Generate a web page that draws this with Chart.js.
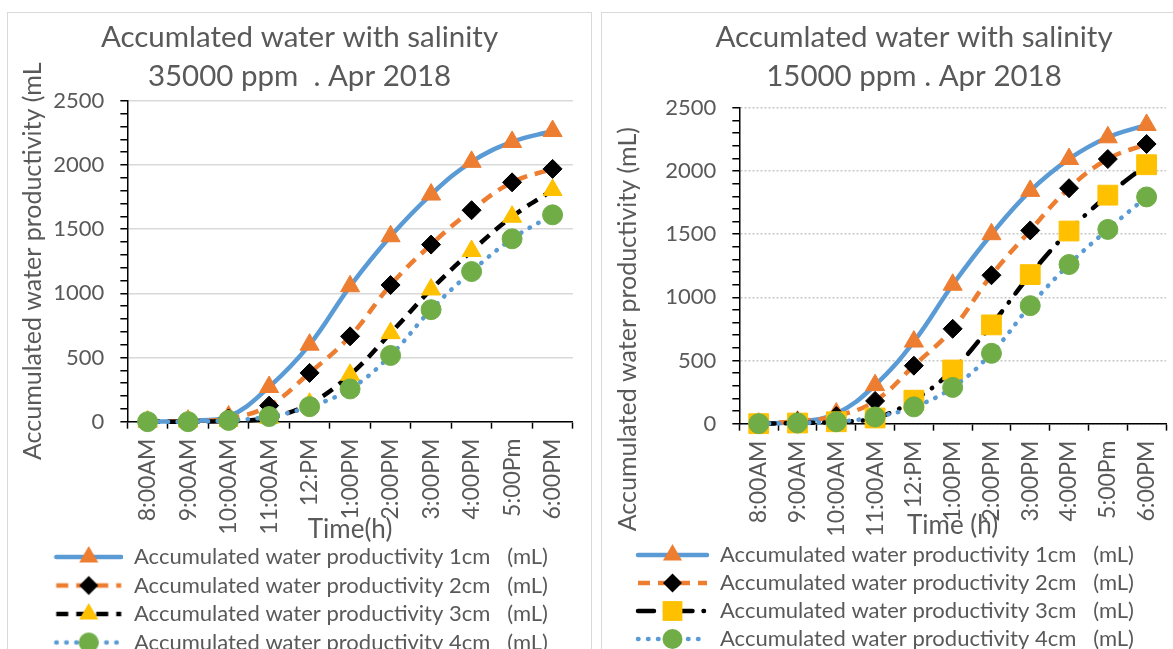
<!DOCTYPE html>
<html>
<head>
<meta charset="utf-8">
<script src="https://cdn.jsdelivr.net/npm/chart.js@4.4.1/dist/chart.umd.min.js"></script>
<style>
  html, body { margin: 0; padding: 0; background: #fff; }
  body { width: 1173px; height: 649px; overflow: hidden; position: relative; }
  .box { position: absolute; border: 1px solid #d9d9d9; background: #fff; }
  #box35 { left: 7px; top: 12px; width: 583px; height: 670px; }
  #box15 { left: 601px; top: 12px; width: 624px; height: 670px; }
  canvas { display: block; }
</style>
</head>
<body>
<div class="box" id="box35"><canvas id="chart35" width="583" height="660"></canvas></div>
<div class="box" id="box15"><canvas id="chart15" width="624" height="660"></canvas></div>
<script>
// time of day (x axis)
const times = ['8:00AM', '9:00AM', '10:00AM', '11:00AM', '12:PM', '1:00PM', '2:00PM', '3:00PM', '4:00PM', '5:00Pm', '6:00PM'];

// salinity 35000 ppm, accumulated water (mL)
const left1cm = [0, 8, 40, 270, 600, 1055, 1445, 1770, 2025, 2180, 2265];
const left2cm = [0, 5, 25, 125, 380, 665, 1065, 1380, 1648, 1865, 1970];
const left3cm = [0, 0, 5, 30, 140, 365, 690, 1030, 1330, 1597, 1805];
const left4cm = [0, 0, 10, 40, 117, 255, 516, 873, 1170, 1425, 1612];

// salinity 15000 ppm, accumulated water (mL)
const right1cm = [0, 15, 80, 305, 650, 1100, 1500, 1843, 2095, 2267, 2365];
const right2cm = [0, 20, 60, 180, 459, 751, 1175, 1530, 1864, 2095, 2214];
const right3cm = [0, 5, 15, 45, 186, 425, 782, 1180, 1525, 1809, 2050];
const right4cm = [0, 5, 15, 53, 133, 287, 557, 934, 1260, 1538, 1795];

const seriesNames = [
  'Accumulated water productivity 1cm   (mL)',
  'Accumulated water productivity 2cm   (mL)',
  'Accumulated water productivity 3cm   (mL)',
  'Accumulated water productivity 4cm   (mL)'
];

const BLUE = '#5b9bd5', ORANGE = '#ed7d31', YELLOW = '#ffc000', GREEN = '#70ad47', TEXT = '#595959';
const FONT = 'Lato';

function drawMarker(g, style, r, color, x, y) {
  g.fillStyle = color;
  g.beginPath();
  if (style === 'triangle') {
    const a = 2 * Math.PI / 3;
    g.moveTo(x, y - r);
    g.lineTo(x + r * Math.sin(a), y - r * Math.cos(a));
    g.lineTo(x - r * Math.sin(a), y - r * Math.cos(a));
  } else if (style === 'rectRot') {
    g.moveTo(x, y - r); g.lineTo(x + r, y); g.lineTo(x, y + r); g.lineTo(x - r, y);
  } else if (style === 'rect') {
    const s = r * Math.SQRT1_2;
    g.rect(x - s, y - s, 2 * s, 2 * s);
  } else {
    g.arc(x, y, r, 0, Math.PI * 2);
  }
  g.closePath();
  g.fill();
}

// legend sample: line piece with the marker in the middle
function sampleImage(ds, margin, len) {
  const c = document.createElement('canvas');
  c.width = margin + len; c.height = 30;
  const g = c.getContext('2d');
  g.strokeStyle = ds.borderColor;
  g.lineWidth = ds.borderWidth;
  g.lineCap = ds.borderCapStyle || 'butt';
  g.setLineDash(ds.borderDash || []);
  g.beginPath(); g.moveTo(margin + 2, 15); g.lineTo(margin + len - 2, 15); g.stroke();
  g.setLineDash([]);
  drawMarker(g, ds.pointStyle, ds.pointRadius, ds.pointBackgroundColor, margin + len / 2, 15);
  return c;
}

function series(label, values, color, width, dash, cap, marker, radius, markerColor, order) {
  return {
    label: label, data: values,
    borderColor: color, borderWidth: width, borderDash: dash, borderCapStyle: cap,
    tension: 0.4, fill: false, clip: false, order: order,
    pointStyle: marker, pointRadius: radius,
    pointBackgroundColor: markerColor, pointBorderColor: markerColor, pointBorderWidth: 1
  };
}

function makeChart(id, cfg) {
  const datasets = [
    series(seriesNames[0], cfg.values[0], BLUE, 4.5, [], 'round', 'triangle', 11, ORANGE, 3),
    series(seriesNames[1], cfg.values[1], ORANGE, 4.5, [12, 8], 'butt', 'rectRot', 9.5, '#000', 2),
    series(seriesNames[2], cfg.values[2], '#000', 4.5, cfg.dash3, cfg.cap3, cfg.marker3, cfg.radius3, YELLOW, 1),
    series(seriesNames[3], cfg.values[3], BLUE, 4.5, [0.5, 9.5], 'round', 'circle', 10, GREEN, 0)
  ];
  const images = datasets.map(ds => sampleImage(ds, cfg.legendMargin, cfg.sampleLen));

  new Chart(document.getElementById(id), {
    type: 'line',
    data: { labels: times, datasets: datasets },
    options: {
      responsive: false,
      animation: false,
      events: [],
      layout: { padding: { left: 0, right: 0, top: 0, bottom: cfg.bottomPad } },
      plugins: {
        tooltip: { enabled: false },
        title: {
          display: true,
          text: cfg.title,
          color: TEXT,
          font: { family: FONT, size: 29.5, weight: 'normal', lineHeight: 1.32 },
          padding: { top: 5.5, bottom: cfg.titleBottom }
        },
        legend: {
          display: true,
          position: 'bottom',
          align: 'start',
          labels: {
            usePointStyle: true,
            pointStyleWidth: cfg.legendMargin + cfg.sampleLen,
            padding: cfg.legendPad,
            color: TEXT,
            font: { family: FONT, size: 22 },
            generateLabels: chart => chart.data.datasets.map((ds, i) => ({
              text: ds.label, pointStyle: images[i], fillStyle: 'transparent',
              strokeStyle: 'transparent', lineWidth: 0, hidden: false, datasetIndex: i, fontColor: TEXT
            }))
          }
        }
      },
      scales: {
        x: {
          offset: true,
          grid: { offset: true, drawOnChartArea: false, tickColor: '#000', tickLength: 7, tickWidth: 1.5 },
          border: { color: '#000', width: 1.5 },
          ticks: { color: TEXT, font: { family: FONT, size: 23 }, minRotation: 90, maxRotation: 90, padding: 10, autoSkip: false },
          title: { display: true, text: cfg.xTitle, color: TEXT, font: { family: FONT, size: 26 }, padding: cfg.xTitlePad }
        },
        y: {
          min: 0, max: 2500,
          grid: {
            color: c => (c.tick && c.tick.value % 500 === 0) ? cfg.gridColor : 'rgba(0,0,0,0)',
            lineWidth: 1.5, tickColor: '#000', tickLength: 7, tickWidth: 1.5
          },
          border: { color: '#000', width: 1.5, dash: cfg.gridDash },
          ticks: {
            stepSize: 100, maxTicksLimit: 100, autoSkip: false, padding: 16,
            color: TEXT, font: { family: FONT, size: 22 },
            callback: v => (v % 500 === 0 ? v : '')
          },
          title: { display: true, text: cfg.yTitle, align: cfg.yTitleAlign, color: TEXT, font: { family: FONT, size: 25 }, padding: cfg.yTitlePad }
        },
        gap: {
          position: 'right', display: true,
          grid: { display: false }, border: { display: false }, ticks: { display: false },
          afterFit: s => { s.width = cfg.rightGap; }
        }
      }
    }
  });
}

makeChart('chart35', {
  values: [left1cm, left2cm, left3cm, left4cm],
  title: ['Accumlated water with salinity', '35000 ppm  . Apr 2018'],
  titleBottom: 4.5,
  dash3: [12, 8], cap3: 'butt', marker3: 'triangle', radius3: 11,
  gridColor: '#d9d9d9', gridDash: [],
  xTitle: 'Time(h)', xTitlePad: { top: -30.3, bottom: -6.1 },
  yTitle: 'Accumulated water productivity (mL', yTitleAlign: 'center', yTitlePad: { top: 10, bottom: -10.7 },
  legendPad: 6.5, legendMargin: 39.5, sampleLen: 69,
  rightGap: 18, bottomPad: 9.5
});

makeChart('chart15', {
  values: [right1cm, right2cm, right3cm, right4cm],
  title: ['Accumlated water with salinity', '15000 ppm . Apr 2018'],
  titleBottom: 11.5,
  dash3: [16, 11, 0.5, 11], cap3: 'round', marker3: 'rect', radius3: 14,
  gridColor: '#c8c8c8', gridDash: [2, 2],
  xTitle: 'Time (h)', xTitlePad: { top: -36.3, bottom: -3.6 },
  yTitle: 'Accumulated water productivity (mL)   ', yTitleAlign: 'end', yTitlePad: { top: 11, bottom: 6.3 },
  legendPad: 6, legendMargin: 28, sampleLen: 73,
  rightGap: 60, bottomPad: 13
});
</script>
</body>
</html>
